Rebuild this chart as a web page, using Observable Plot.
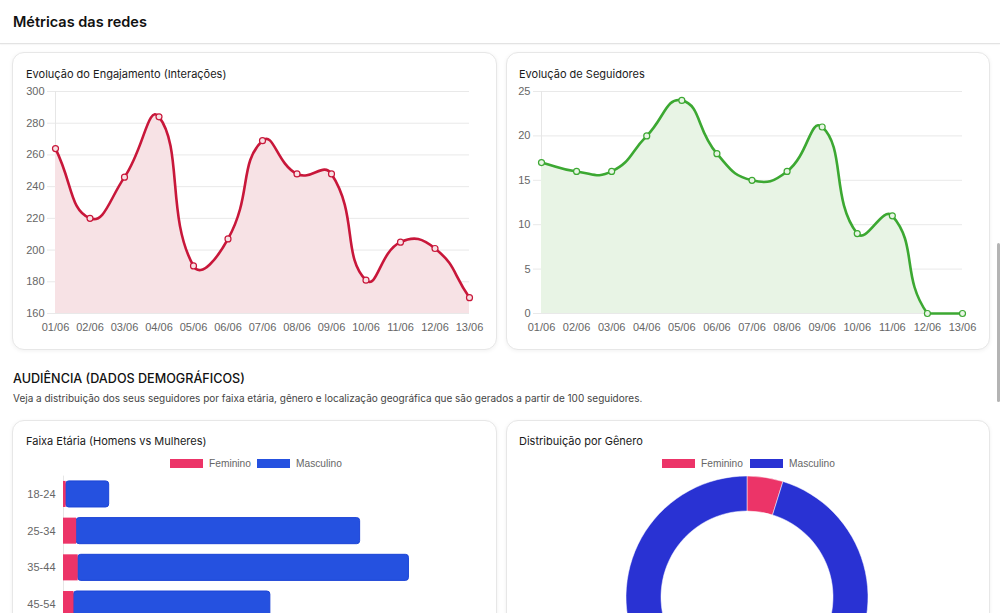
<!DOCTYPE html>
<html><head><meta charset="utf-8">
<script src="https://cdn.jsdelivr.net/npm/d3@7"></script>
<script src="https://cdn.jsdelivr.net/npm/@observablehq/plot@0.6"></script>
<style>
body{margin:0;width:1000px;height:613px;overflow:hidden;background:#fff;font-family:Inter,"Noto Sans",sans-serif;position:relative;}
.a{position:absolute;white-space:nowrap;}
.card{position:absolute;border:1px solid #e7e7e7;border-radius:12px;background:#fff;box-shadow:0 1px 4px rgba(0,0,0,0.06);box-sizing:border-box;}
.ct{position:absolute;font-size:11px;line-height:14px;color:#1a1a1a;white-space:nowrap;}
.sw{position:absolute;width:33px;height:9px;box-sizing:border-box;}
.lt{position:absolute;font-family:"Liberation Sans",Arial,sans-serif;font-size:10.2px;line-height:12px;color:#666;white-space:nowrap;}
.chart{position:absolute;}
</style></head><body>
<div class="a" style="left:13px;top:12px;font-size:14.5px;line-height:20px;font-weight:600;color:#111;">Métricas das redes</div>
<div class="a" style="left:0;top:43px;width:1000px;height:1px;background:#e3e3e3;box-shadow:0 1px 1px rgba(0,0,0,0.04);"></div>

<div class="card" style="left:12px;top:52px;width:485px;height:298px;"></div>
<div class="card" style="left:506px;top:52px;width:484px;height:298px;"></div>
<div class="ct" style="left:26px;top:67px;">Evolução do Engajamento (Interações)</div>
<div class="ct" style="left:519px;top:67px;">Evolução de Seguidores</div>
<div id="c1" class="chart" style="left:18px;top:82px;"></div>
<div id="c2" class="chart" style="left:512px;top:82px;"></div>

<div class="a" style="left:13px;top:370px;font-size:12.6px;line-height:18px;font-weight:500;color:#111;">AUDIÊNCIA (DADOS DEMOGRÁFICOS)</div>
<div class="a" style="left:13px;top:391px;font-size:10px;line-height:14px;color:#444;">Veja a distribuição dos seus seguidores por faixa etária, gênero e localização geográfica que são gerados a partir de 100 seguidores.</div>

<div class="card" style="left:12px;top:420px;width:485px;height:300px;"></div>
<div class="card" style="left:506px;top:420px;width:484px;height:300px;"></div>
<div class="ct" style="left:26px;top:434px;">Faixa Etária (Homens vs Mulheres)</div>
<div class="ct" style="left:519px;top:434px;">Distribuição por Gênero</div>
<div id="leg1"></div>
<div id="leg2"></div>
<div id="c3" class="chart" style="left:18px;top:470px;"></div>
<div id="c4" class="chart" style="left:506px;top:470px;"></div>

<div class="a" style="left:997px;top:243px;width:3px;height:159px;background:#b4b4b4;border-radius:2px;"></div>

<script>
// ---- data ----
const days = ["01/06","02/06","03/06","04/06","05/06","06/06","07/06","08/06","09/06","10/06","11/06","12/06","13/06"];
const engajamento = [264, 220, 246, 284, 190, 207, 269, 248, 248, 181, 205, 201, 170];
const seguidores = [17, 16, 16, 20, 24, 18, 15, 16, 21, 9, 11, 0, 0];
const engTicks = [160, 180, 200, 220, 240, 260, 280, 300];
const segTicks = [0, 5, 10, 15, 20, 25];

const ages = ["18-24", "25-34", "35-44", "45-54"];
const femByAge = [0.25, 1.25, 1.4, 1.0];
const mascByAge = [4.1, 27.0, 31.5, 18.7];
const ageDomainMax = 40;

const genders = ["Feminino", "Masculino"];
const genderShare = [4.8, 95.2];

const barColors = ["#ec3468", "#2551e0"];
const donutColors = ["#ec3468", "#2932d3"];

// ---- Chart.js-like cubic spline curve (capped control points) ----
function chartjsCurve(bounds, tension = 0.5) {
  function C(context) { this._context = context; }
  C.prototype = {
    areaStart() { this._line = 0; },
    areaEnd() { this._line = NaN; },
    lineStart() { this._pts = []; },
    point(x, y) { this._pts.push([+x, +y]); },
    lineEnd() {
      const p = this._pts, n = p.length, c = this._context;
      if (n) {
        if (this._line) c.lineTo(p[0][0], p[0][1]); else c.moveTo(p[0][0], p[0][1]);
        const clamp = q => [Math.max(bounds.left, Math.min(bounds.right, q[0])), Math.max(bounds.top, Math.min(bounds.bottom, q[1]))];
        const cps = p.map((cur, i) => {
          const prev = p[i - 1] || cur, next = p[i + 1] || cur;
          const d01 = Math.hypot(cur[0] - prev[0], cur[1] - prev[1]);
          const d12 = Math.hypot(next[0] - cur[0], next[1] - cur[1]);
          let s01 = d01 / (d01 + d12), s12 = d12 / (d01 + d12);
          if (isNaN(s01)) s01 = 0;
          if (isNaN(s12)) s12 = 0;
          const fa = tension * s01, fb = tension * s12;
          return {
            prev: clamp([cur[0] - fa * (next[0] - prev[0]), cur[1] - fa * (next[1] - prev[1])]),
            next: clamp([cur[0] + fb * (next[0] - prev[0]), cur[1] + fb * (next[1] - prev[1])])
          };
        });
        for (let i = 0; i < n - 1; i++) {
          c.bezierCurveTo(cps[i].next[0], cps[i].next[1], cps[i + 1].prev[0], cps[i + 1].prev[1], p[i + 1][0], p[i + 1][1]);
        }
      }
      if (this._line || (this._line !== 0 && n === 1)) c.closePath();
      this._line = 1 - this._line;
    }
  };
  return ctx => new C(ctx);
}

const tickFont = {fontFamily: "'Liberation Sans', Arial, sans-serif", fontSize: "11px", color: "#666", background: "transparent", overflow: "visible"};

function lineChart({cats, vals, ticks, color, fill, mL, mR}) {
  const W = 470, H = 255, mT = 9, mB = 24;
  const bounds = {left: mL, right: W - mR, top: mT, bottom: H - mB};
  const curve = chartjsCurve(bounds);
  const data = cats.map((d, i) => ({d, v: vals[i]}));
  const y0 = ticks[0];
  return Plot.plot({
    width: W, height: H, marginLeft: mL, marginRight: mR, marginTop: mT, marginBottom: mB,
    style: tickFont,
    x: {type: "point", domain: cats, padding: 0, round: false, label: null},
    y: {domain: [ticks[0], ticks[ticks.length - 1]], label: null},
    marks: [
      Plot.gridY(ticks, {stroke: "#e9e9e9", strokeOpacity: 1, insetLeft: -8}),
      Plot.ruleX(cats.slice(0, 1), {stroke: "#e6e6e6"}),
      Plot.areaY(data, {x: "d", y1: y0, y2: "v", curve, fill}),
      Plot.lineY(data, {x: "d", y: "v", curve, stroke: color, strokeWidth: 2.6}),
      Plot.dot(data, {x: "d", y: "v", r: 3, stroke: color, fill, strokeWidth: 1.2}),
      Plot.axisY(ticks, {tickSize: 0, tickPadding: 11, fill: "#666"}),
      Plot.axisX({tickSize: 0, tickPadding: 10, fill: "#666"})
    ]
  });
}

document.getElementById("c1").append(lineChart({cats: days, vals: engajamento, ticks: engTicks, color: "#c8173a", fill: "#f7e2e5", mL: 37, mR: 19}));
document.getElementById("c2").append(lineChart({cats: days, vals: seguidores, ticks: segTicks, color: "#3ca832", fill: "#e8f4e5", mL: 29, mR: 20}));

// ---- legends ----
function legend(id, items, top) {
  const el = document.getElementById(id);
  items.forEach(([label, color, sx, tx]) => {
    const s = document.createElement("div");
    s.className = "sw";
    s.style.cssText = `left:${sx}px;top:${top}px;background:${color};`;
    const t = document.createElement("div");
    t.className = "lt";
    t.style.cssText = `left:${tx}px;top:${top - 1}px;`;
    t.textContent = label;
    el.append(s, t);
  });
}
legend("leg1", [[genders[0], barColors[0], 170, 209], [genders[1], barColors[1], 257, 296]], 459);
legend("leg2", [[genders[0], donutColors[0], 662, 701], [genders[1], donutColors[1], 750, 789]], 459);

// ---- stacked horizontal bars ----
const femRows = ages.map((a, i) => ({age: a, g: genders[0], x1: 0, x2: femByAge[i]}));
const mascRows = ages.map((a, i) => ({age: a, g: genders[1], x1: femByAge[i], x2: femByAge[i] + mascByAge[i]}));
document.getElementById("c3").append(Plot.plot({
  width: 475, height: 160, marginLeft: 45, marginRight: 10, marginTop: 5.6, marginBottom: 7.6,
  style: tickFont,
  x: {domain: [0, ageDomainMax], label: null},
  y: {domain: ages, paddingInner: 0.29, paddingOuter: 0.145, round: false, label: null},
  color: {domain: genders, range: barColors},
  marks: [
    Plot.ruleX([0], {stroke: "#e6e6e6"}),
    Plot.barX(mascRows, {y: "age", x1: "x1", x2: "x2", fill: "g", stroke: "#1c44d6", strokeWidth: 1, rx: 3}),
    Plot.barX(femRows, {y: "age", x1: "x1", x2: "x2", fill: "g"}),
    Plot.axisY({tickSize: 0, tickPadding: 8, fill: "#666"})
  ]
}));

// ---- donut ----
const donutScale = Plot.scale({color: {domain: genders, range: donutColors}});
const donutData = genders.map((g, i) => ({g, v: genderShare[i]}));
document.getElementById("c4").append(Plot.plot({
  width: 484, height: 260, margin: 0,
  style: {background: "transparent", overflow: "visible"},
  x: {domain: [0, 1], axis: null}, y: {domain: [0, 1], axis: null},
  marks: [
    (index, scales, values, dims) => {
      const g = d3.create("svg:g").attr("transform", `translate(${dims.width / 2 - 1},127)`);
      const arcs = d3.pie().sort(null).value(d => d.v)(donutData);
      const arc = d3.arc().innerRadius(86).outerRadius(121);
      g.selectAll("path").data(arcs).join("path")
        .attr("d", arc)
        .attr("fill", d => donutScale.apply(d.data.g))
        .attr("stroke", "#fff").attr("stroke-width", 0.5);
      return g.node();
    }
  ]
}));
</script>
</body></html>
